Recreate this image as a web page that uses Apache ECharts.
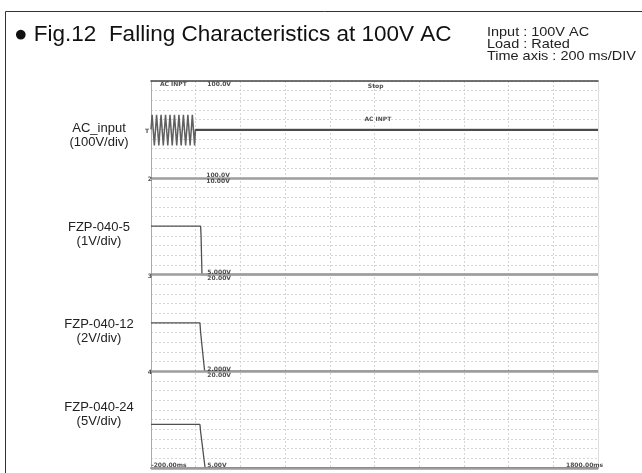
<!DOCTYPE html>
<html><head><meta charset="utf-8">
<script src="https://cdn.jsdelivr.net/npm/echarts@6/dist/echarts.min.js"></script>
<style>html,body{margin:0;padding:0;background:#fff}#c{width:642px;height:473px}</style>
</head><body><div id="c"></div>
<script>
// Oscilloscope screen: time in ms (200 ms/DIV, 10 DIV), level in screen divisions (8 DIV)
const timeMin = 0, timeMax = 2000, timeStep = 200;
const divMin = 0, divMax = 8, divStep = 1;

const channelNames = ['AC_input', 'FZP-040-5', 'FZP-040-12', 'FZP-040-24'];
const channelScales = ['(100V/div)', '(1V/div)', '(2V/div)', '(5V/div)'];
const channelLabelLevels = [7.0, 4.95, 2.95, 1.23];

// AC input burst (50 Hz, stops at ~200 ms)
const acTime  = [0, 5, 15, 25, 35, 45, 55, 65, 75, 85, 95, 105, 115, 125, 135, 145, 155, 165, 175, 185, 195, 199, 2000];
const acLevel = [7.0, 7.3, 6.67, 7.3, 6.67, 7.3, 6.67, 7.3, 6.67, 7.3, 6.67, 7.3, 6.67, 7.3, 6.67, 7.3, 6.67, 7.3, 6.67, 7.3, 6.67, 7.0, 7.0];

const fzp5Time   = [0, 222, 224, 228, 2000];
const fzp5Level  = [5.0, 5.0, 4.8, 4.0, 4.0];
const fzp12Time  = [0, 219, 222, 240, 2000];
const fzp12Level = [3.0, 3.0, 2.8, 2.0, 2.0];
const fzp24Time  = [0, 219, 222, 242, 2000];
const fzp24Level = [0.9, 0.9, 0.75, 0.0, 0.0];

// channel reference (ground) markers
const groundLevels = [6, 4, 2, 0];

// scope on-screen readouts: [time ms, level div, text]
const readouts = [
  [100, 7.93, 'AC INPT'],
  [305, 7.93, '100.0V'],
  [1005, 7.88, 'Stop'],
  [1015, 7.2, 'AC INPT'],
  [-18, 6.95, 'T'],
  [-5, 5.97, '2'],
  [300, 5.98, '100.0V\n10.00V'],
  [-5, 3.97, '3'],
  [305, 3.98, '5.000V\n20.00V'],
  [-5, 1.97, '4'],
  [305, 1.98, '2.000V\n20.00V'],
  [80, 0.05, '-200.00ms'],
  [295, 0.05, '5.00V'],
  [1940, 0.05, '1800.00ms']
];

const chart = echarts.init(document.getElementById('c'), null, {renderer: 'canvas'});
const traceStyle = {color: '#505050', width: 1.3};
const mk = (t, v) => t.map((x, i) => [x, v[i]]);

const graphics = [
  {type: 'rect', shape: {x: 5.5, y: 11.5, width: 700, height: 500}, style: {fill: 'none', stroke: '#333', lineWidth: 1}},
  {type: 'text', left: 14, top: 23, style: {text: '\u25CF Fig.12  Falling Characteristics at 100V AC', font: '22.5px "Liberation Sans", Arial, sans-serif', fill: '#111'}},
  {type: 'text', x: 487, y: 26, scaleX: 1.08, style: {text: 'Input : 100V AC\nLoad : Rated\nTime axis : 200 ms/DIV', font: '13.4px "Liberation Sans", Arial, sans-serif', lineHeight: 12, fill: '#222'}}
];
channelNames.forEach((n, i) => {
  graphics.push({type: 'text', style: {text: n + '\n' + channelScales[i], font: '13px "Liberation Sans", Arial, sans-serif', lineHeight: 14, fill: '#222', align: 'center', verticalAlign: 'middle'},
    position: [99, 0], z: 10, info: i});
});

chart.setOption({
  animation: false,
  grid: {left: 151, top: 81, width: 447, height: 387, show: false},
  xAxis: [
    {type: 'value', min: timeMin, max: timeMax, interval: timeStep, position: 'bottom',
      axisLine: {show: true, onZero: false, lineStyle: {color: '#999', width: 2}}, axisTick: {show: false}, axisLabel: {show: false},
      splitLine: {show: true, lineStyle: {color: '#d4d4d4', type: [2, 2], width: 1}}},
    {type: 'value', min: timeMin, max: timeMax, interval: timeStep, position: 'top',
      axisLine: {show: true, onZero: false, lineStyle: {color: '#444', width: 1.5}}, axisTick: {show: false}, axisLabel: {show: false}, splitLine: {show: false}}
  ],
  yAxis: [
    {type: 'value', min: divMin, max: divMax, interval: divStep, position: 'left',
      axisLine: {show: true, onZero: false, lineStyle: {color: '#aaa', width: 1}}, axisTick: {show: false}, axisLabel: {show: false},
      splitLine: {show: true, lineStyle: {color: '#cdcdcd', type: [2, 2], width: 1}},
      minorTick: {show: false, splitNumber: 5},
      minorSplitLine: {show: true, lineStyle: {color: '#d6d6d6', type: [2, 2], width: 1}}},
    {type: 'value', min: divMin, max: divMax, interval: divStep, position: 'right',
      axisLine: {show: true, onZero: false, lineStyle: {color: '#ddd', width: 1}}, axisTick: {show: false}, axisLabel: {show: false}, splitLine: {show: false}}
  ],
  graphic: graphics,
  series: [
    {type: 'line', data: [], markLine: {silent: true, symbol: 'none', label: {show: false},
      lineStyle: {color: '#9d9d9d', width: 2.5, type: 'solid'}, data: groundLevels.map(g => ({yAxis: g}))}},
    {type: 'line', data: mk(acTime, acLevel), showSymbol: false, lineStyle: {color: '#606060', width: 1.5}, clip: false,
      markLine: {silent: true, symbol: 'none', label: {show: false}, lineStyle: {color: '#4a4a4a', width: 2, type: 'solid'},
        data: [[{coord: [199, 7.0]}, {coord: [2000, 7.0]}]]}},
    {type: 'line', data: mk(fzp5Time, fzp5Level), showSymbol: false, lineStyle: traceStyle},
    {type: 'line', data: mk(fzp12Time, fzp12Level), showSymbol: false, lineStyle: traceStyle},
    {type: 'line', data: mk(fzp24Time, fzp24Level), showSymbol: false, lineStyle: traceStyle},
    {type: 'scatter', symbolSize: 0, clip: false, data: readouts.map(r => ({value: [r[0], r[1]], name: r[2]})),
      label: {show: true, position: 'inside', formatter: p => p.name, fontFamily: 'DejaVu Sans', fontWeight: 'bold', fontSize: 6, lineHeight: 6, color: '#222'}, z: 5}
  ]
});

// place channel labels at their trace levels via the y scale
const newG = graphics.map(g => {
  if (g.info !== undefined) {
    const py = chart.convertToPixel({yAxisIndex: 0}, channelLabelLevels[g.info]);
    return Object.assign({}, g, {position: [99, py + 6]});
  }
  return g;
});
chart.setOption({graphic: newG}, {replaceMerge: ['graphic']});
</script></body></html>
